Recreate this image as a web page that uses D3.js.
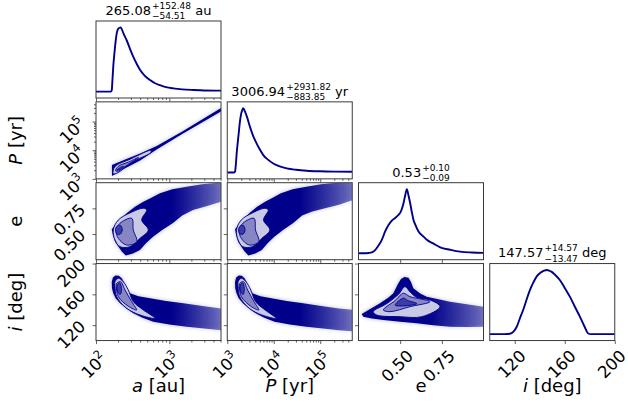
<!DOCTYPE html>
<html>
<head>
<meta charset="utf-8">
<script src="https://cdn.jsdelivr.net/npm/d3@7"></script>
<style>
  body { margin: 0; background: #fff; }
  svg { display: block; font-family: "DejaVu Sans", sans-serif; }
</style>
</head>
<body>
<svg id="chart" width="628" height="405"></svg>
<script>
// ---------- values ----------
// axis limits and ticks
const aDomain = [100, 5070];
const pDomain = [1000, 487600];
const eDomain = [0.25, 1.0];
const iDomain = [100, 200];
const aTicks = [100, 1000];
const pTicks = [1000, 10000, 100000];
const eTicks = [0.5, 0.75];
const iTicks = [120, 160, 200];
const eTickLabels = ["0.50", "0.75"];
const iTickLabels = ["120", "160", "200"];

// labels and titles
const labelSymbols = ["a", "P", "e", "i"];
const labelUnits = [" [au]", " [yr]", "", " [deg]"];
const labelItalic = [true, true, false, true];
const titleMain = ["265.08", "3006.94", "0.53", "147.57"];
const titlePlus = ["+152.48", "+2931.82", "+0.10", "+14.57"];
const titleMinus = ["\u221254.51", "\u2212883.85", "\u22120.09", "\u221213.47"];
const titleUnit = ["au", "yr", "", "deg"];

// 1D marginals (normalised to peak)
const aHistX = [100, 150, 160, 164, 168, 172, 177, 182, 187, 192, 197, 202, 210, 217, 225, 240, 262, 290, 323, 360, 398, 460, 546, 640, 746, 900, 1135, 1500, 2125, 3000, 5070];
const aHistY = [0, 0, 0, 0.02, 0.2, 0.39, 0.56, 0.7, 0.82, 0.91, 0.96, 0.98, 0.995, 1.0, 0.97, 0.89, 0.8, 0.67, 0.54, 0.43, 0.34, 0.25, 0.18, 0.13, 0.1, 0.07, 0.05, 0.035, 0.025, 0.018, 0.015];
const pHistX = [1000, 1400, 1468, 1530, 1596, 1700, 1792, 1880, 1977, 2100, 2213, 2400, 2700, 3083, 3600, 4297, 5000, 5957, 7500, 9772, 13500, 19000, 30000, 51170, 100000, 200000, 487600];
const pHistY = [0, 0, 0.01, 0.12, 0.3, 0.5, 0.66, 0.8, 0.9, 0.97, 1.0, 0.95, 0.85, 0.71, 0.57, 0.45, 0.36, 0.27, 0.2, 0.14, 0.095, 0.064, 0.042, 0.027, 0.018, 0.013, 0.01];
const eHistX = [0.25, 0.29, 0.31, 0.33, 0.35, 0.37, 0.39, 0.41, 0.43, 0.45, 0.47, 0.49, 0.50, 0.51, 0.52, 0.53, 0.54, 0.55, 0.56, 0.57, 0.58, 0.59, 0.61, 0.64, 0.66, 0.70, 0.74, 0.80, 0.86, 0.93, 1.0];
const eHistY = [0, 0, 0.005, 0.015, 0.05, 0.12, 0.21, 0.34, 0.44, 0.51, 0.55, 0.6, 0.63, 0.69, 0.78, 0.9, 1.0, 0.9, 0.78, 0.64, 0.52, 0.45, 0.34, 0.26, 0.21, 0.15, 0.093, 0.055, 0.025, 0.012, 0.006];
const iHistX = [100, 112, 116, 119, 121.6, 124, 126.8, 129.5, 132.2, 135, 137.6, 139.6, 141.6, 143.6, 145.6, 147.6, 149.6, 152, 156.2, 160, 164.2, 168, 172.2, 175.5, 178.8, 181, 200];
const iHistY = [0, 0, 0.005, 0.04, 0.115, 0.24, 0.38, 0.54, 0.69, 0.81, 0.9, 0.94, 0.97, 0.99, 1.0, 0.99, 0.97, 0.93, 0.84, 0.72, 0.58, 0.43, 0.27, 0.13, 0.01, 0, 0];

// 2D clouds: outline of the sample cloud, then three density contours (outer -> inner)
const apOuter = [[165, 1250], [165, 3050], [250, 4700], [400, 7600], [673, 14000], [1500, 45000], [5070, 300000], [5070, 225000], [1500, 37000], [673, 10500], [400, 4400], [250, 2350]];
const apLevels = [
  [[172, 1500], [180, 2600], [300, 5000], [560, 9800], [560, 8300], [300, 3700], [200, 1650]],
  [[185, 1900], [200, 2700], [280, 3900], [380, 5600], [270, 3100], [200, 1850]],
  [[192, 2000], [215, 2500], [240, 2700], [215, 2200]]
];
const aeOuter = [[164, 0.546], [200, 0.62], [262, 0.702], [340, 0.765], [442, 0.815], [560, 0.85], [746, 0.897], [1100, 0.935], [1727, 0.961], [2800, 0.985], [3945, 0.994], [5070, 1.0], [5070, 0.815], [3200, 0.77], [2104, 0.734], [1500, 0.68], [1122, 0.607], [800, 0.54], [600, 0.474], [480, 0.41], [398, 0.344], [320, 0.31], [255, 0.29], [225, 0.33], [200, 0.38], [182, 0.425], [170, 0.49]];
const aeLevels = [
  [[172, 0.539], [201.5, 0.637], [300, 0.71], [442, 0.751], [492, 0.734], [420, 0.637], [517, 0.539], [398, 0.458], [291, 0.377], [212.5, 0.377], [181.7, 0.442]],
  [[187.5, 0.539], [212.5, 0.605], [307, 0.653], [322.8, 0.539], [359, 0.425], [262, 0.393], [201.5, 0.458]],
  [[190, 0.57], [215, 0.585], [228, 0.54], [215, 0.5], [195, 0.5], [185, 0.53]]
];
const peOuter = [[1470, 0.546], [1980, 0.62], [2969, 0.702], [4388, 0.765], [6504, 0.815], [9276, 0.85], [14262, 0.897], [25538, 0.935], [50240, 0.961], [103713, 0.985], [173460, 0.994], [252700, 1.0], [487600, 1.0], [487600, 0.83], [252700, 0.785], [126713, 0.75], [67560, 0.72], [40666, 0.68], [26310, 0.607], [15839, 0.54], [10288, 0.474], [7361, 0.41], [5558, 0.344], [4007, 0.31], [2850, 0.29], [2363, 0.33], [1980, 0.38], [1719, 0.425], [1552, 0.49]];
const peLevels = [
  [[1579, 0.539], [2002, 0.637], [3637, 0.71], [6504, 0.751], [7639, 0.734], [6025, 0.637], [8229, 0.539], [5558, 0.458], [3475, 0.377], [2168, 0.377], [1714, 0.442]],
  [[1797, 0.539], [2168, 0.605], [3765, 0.653], [4062, 0.539], [4761, 0.425], [2969, 0.393], [2002, 0.458]],
  [[1833, 0.57], [2207, 0.585], [2410, 0.54], [2207, 0.5], [1906, 0.5], [1761, 0.53]]
];
const aiOuter = [[164, 176], [170, 182], [185, 184.5], [205, 184], [225, 181], [240, 176], [260, 168], [291, 161.4], [380, 157.5], [546, 154.9], [900, 151.5], [1552, 148.4], [3000, 144.5], [5070, 141.5], [5070, 113.5], [3000, 115.5], [1727, 118], [1000, 121], [605, 124.5], [430, 129.5], [323, 135.4], [260, 141.5], [212.5, 148.4], [185, 155], [172, 161.4], [165, 168]];
const aiLevels = [
  [[181.7, 176.4], [201.5, 180.8], [235.6, 176.4], [276, 165.6], [322.8, 150.5], [441.6, 139.7], [638, 128.9], [398, 133.2], [262, 141.9], [191.6, 157], [181.7, 170]],
  [[191.6, 174.4], [217.3, 176.4], [248.8, 165.6], [307, 150.5], [359, 139.7], [276, 144.5], [201.5, 157], [190, 168]],
  [[195, 172], [210, 175], [222, 168], [215, 160], [200, 162]]
];
const piOuter = [[1470, 176], [1552, 182], [1761, 184.5], [2055, 184], [2363, 181], [2603, 176], [2935, 168], [3475, 161.4], [5185, 157.5], [8931, 154.9], [18900, 151.5], [42799, 148.4], [115022, 144.5], [252700, 141.5], [487600, 140], [487600, 112], [252700, 113.5], [115022, 115.5], [50240, 118], [22136, 121], [10417, 124.5], [6242, 129.5], [4064, 135.4], [2935, 141.5], [2168, 148.4], [1761, 155], [1579, 161.4], [1484, 168]];
const piLevels = [
  [[1714, 176.4], [2002, 180.8], [2531, 176.4], [3210, 165.6], [4062, 150.5], [6496, 139.7], [11281, 128.9], [5558, 133.2], [2969, 141.9], [1857, 157], [1714, 170]],
  [[1857, 174.4], [2242, 176.4], [2747, 165.6], [3765, 150.5], [4761, 139.7], [3210, 144.5], [2002, 157], [1833, 168]],
  [[1906, 172], [2130, 175], [2315, 168], [2207, 160], [1980, 162]]
];
const eiOuter = [[0.269, 134.5], [0.32, 141], [0.379, 148.4], [0.43, 156], [0.459, 161.4], [0.489, 174.3], [0.505, 180], [0.525, 182.5], [0.55, 181.5], [0.565, 176], [0.579, 167.9], [0.62, 161], [0.659, 157], [0.73, 153.5], [0.799, 150.5], [0.9, 147], [1.0, 144], [1.0, 118], [0.9, 117.5], [0.799, 118], [0.7, 120], [0.599, 122.4], [0.5, 124.5], [0.399, 126.7], [0.33, 128.5], [0.279, 131]];
const eiLevels = [
  [[0.339, 137.5], [0.42, 148], [0.49, 160], [0.529, 170], [0.56, 163], [0.6, 156], [0.679, 152.7], [0.739, 144], [0.629, 131], [0.499, 131], [0.359, 133.2]],
  [[0.399, 139.7], [0.47, 152], [0.519, 161.4], [0.559, 157], [0.679, 150.5], [0.559, 144], [0.439, 137.5]],
  [[0.47, 146], [0.52, 155], [0.545, 152], [0.6, 148], [0.52, 145]]
];

// ---------- layout ----------
const gridLeft = 96, gridTop = 21, pw = 125, ph = 77, gapX = 6.25, gapY = 3.85;
const blue = "#00008b";
const spine = "#3a3a3a";
const levelColors = ["#c9c9e6", "#8686c4", "#3c3ca6"];
const tickFont = 16.5, supFont = 11.5, supRaise = 7.2;

const colX = (c) => gridLeft + c * (pw + gapX);
const rowY = (r) => gridTop + r * (ph + gapY);

const dims = [
  { scale: d3.scaleLog().domain(aDomain), ticks: aTicks, log: true, hx: aHistX, hy: aHistY },
  { scale: d3.scaleLog().domain(pDomain), ticks: pTicks, log: true, hx: pHistX, hy: pHistY },
  { scale: d3.scaleLinear().domain(eDomain), ticks: eTicks, labels: eTickLabels, hx: eHistX, hy: eHistY },
  { scale: d3.scaleLinear().domain(iDomain), ticks: iTicks, labels: iTickLabels, hx: iHistX, hy: iHistY },
];

const clouds = {
  "10": { outer: apOuter, levels: apLevels, fade: false },
  "20": { outer: aeOuter, levels: aeLevels, fade: true },
  "21": { outer: peOuter, levels: peLevels, fade: true },
  "30": { outer: aiOuter, levels: aiLevels, fade: true },
  "31": { outer: piOuter, levels: piLevels, fade: true },
  "32": { outer: eiOuter, levels: eiLevels, fade: true },
};

const svg = d3.select("#chart");
const defs = svg.append("defs");

defs.append("filter").attr("id", "soft").attr("x", "-10%").attr("y", "-10%").attr("width", "120%").attr("height", "120%")
  .append("feGaussianBlur").attr("stdDeviation", 0.7);
defs.append("filter").attr("id", "halo").attr("x", "-20%").attr("y", "-20%").attr("width", "140%").attr("height", "140%")
  .append("feGaussianBlur").attr("stdDeviation", 2.2);

const fade = defs.append("linearGradient").attr("id", "fade");
fade.append("stop").attr("offset", 0).attr("stop-color", blue).attr("stop-opacity", 1);
fade.append("stop").attr("offset", 0.55).attr("stop-color", blue).attr("stop-opacity", 1);
fade.append("stop").attr("offset", 1).attr("stop-color", blue).attr("stop-opacity", 0.5);

function tickText(parent, t, dim, k) {
  const txt = parent.append("text")
    .attr("font-size", tickFont)
    .attr("text-anchor", "middle")
    .attr("fill", "#000");
  let hInk = 0.73 * tickFont;
  if (dim.log) {
    txt.append("tspan").text("10");
    txt.append("tspan").attr("font-size", supFont).attr("dy", -supRaise)
      .text(Math.round(Math.log10(t)));
    hInk = Math.max(hInk, supRaise + 0.73 * supFont);
  } else {
    txt.text(dim.labels[k]);
  }
  const w = txt.node().getBBox().width;
  const size = (w + hInk) * Math.SQRT1_2;
  return { txt, hInk, size };
}

function addTicks(g, x, y, dimX, dimY, labelX, labelY) {
  const minorOf = (dim, s) =>
    dim.log ? s.ticks().filter((t) => !dim.ticks.some((m) => Math.abs(m - t) / m < 1e-6)) : [];

  // x ticks
  const xa = g.append("g").attr("transform", `translate(0,${ph})`);
  xa.call(d3.axisBottom(x).tickValues(dimX.ticks).tickSize(3.5).tickSizeOuter(0).tickFormat(""));
  const xm = g.append("g").attr("transform", `translate(0,${ph})`);
  xm.call(d3.axisBottom(x).tickValues(minorOf(dimX, x)).tickSize(2).tickSizeOuter(0).tickFormat(""));
  [xa, xm].forEach((s) => {
    s.select(".domain").remove();
    s.selectAll("line").attr("stroke", spine).attr("stroke-width", 0.8);
  });
  if (labelX) {
    dimX.ticks.forEach((t, k) => {
      const { txt, hInk, size } = tickText(g, t, dimX, k);
      txt.attr("transform", `translate(${x(t) - 3.2},${ph + 8 + size / 2}) rotate(-45) translate(0,${hInk / 2})`);
    });
  }

  if (!y) return;
  const ya = g.append("g");
  ya.call(d3.axisLeft(y).tickValues(dimY.ticks).tickSize(3.5).tickSizeOuter(0).tickFormat(""));
  const ym = g.append("g");
  ym.call(d3.axisLeft(y).tickValues(minorOf(dimY, y)).tickSize(2).tickSizeOuter(0).tickFormat(""));
  [ya, ym].forEach((s) => {
    s.select(".domain").remove();
    s.selectAll("line").attr("stroke", spine).attr("stroke-width", 0.8);
  });
  if (labelY) {
    dimY.ticks.forEach((t, k) => {
      const { txt, hInk, size } = tickText(g, t, dimY, k);
      txt.attr("transform", `translate(${-9.5 - size / 2},${y(t) - hInk / 2 + size / 2}) rotate(-45) translate(0,${hInk / 2})`);
    });
  }
}

function addTitle(cx, baseY, k) {
  const grp = svg.append("g").attr("fill", "#000");
  const main = grp.append("text").attr("font-size", 13).text(titleMain[k]);
  const sup = grp.append("text").attr("font-size", 9).text(titlePlus[k]);
  const sub = grp.append("text").attr("font-size", 9).text(titleMinus[k]);
  const unit = grp.append("text").attr("font-size", 13).text(titleUnit[k]);
  const wm = main.node().getComputedTextLength();
  const ws = Math.max(sup.node().getComputedTextLength(), sub.node().getComputedTextLength());
  const wu = titleUnit[k] ? unit.node().getComputedTextLength() + 4.2 : 0;
  const x0 = cx - (wm + 1 + ws + wu) / 2;
  main.attr("x", x0).attr("y", baseY);
  sup.attr("x", x0 + wm + 1).attr("y", baseY - 6);
  sub.attr("x", x0 + wm + 1).attr("y", baseY + 4.5);
  unit.attr("x", x0 + wm + 1 + ws + 4.2).attr("y", baseY);
}

function addLabel(sel, k) {
  sel.append("tspan").attr("font-style", labelItalic[k] ? "italic" : "normal").text(labelSymbols[k]);
  if (labelUnits[k]) sel.append("tspan").text(labelUnits[k]);
}

const shapeLine = (x, y, curve) => d3.line().x((d) => x(d[0])).y((d) => y(d[1])).curve(curve);

for (let r = 0; r < 4; r++) {
  for (let c = 0; c <= r; c++) {
    const g = svg.append("g").attr("transform", `translate(${colX(c)},${rowY(r)})`);
    const clipId = `clip-${r}-${c}`;
    defs.append("clipPath").attr("id", clipId).append("rect").attr("width", pw).attr("height", ph);
    const body = g.append("g").attr("clip-path", `url(#${clipId})`);

    const x = dims[c].scale.copy().range([0, pw]);
    let y = null;

    if (r === c) {
      const hy = d3.scaleLinear().domain([-0.1, 1.1]).range([ph, 0]);
      const pts = d3.zip(dims[c].hx, dims[c].hy);
      body.append("path")
        .datum(pts)
        .attr("d", d3.line().x((d) => x(d[0])).y((d) => hy(d[1])).curve(d3.curveMonotoneX))
        .attr("fill", "none")
        .attr("stroke", blue)
        .attr("stroke-width", 1.9)
        .attr("stroke-linejoin", "round");
    } else {
      y = dims[r].scale.copy().range([ph, 0]);
      const cloud = clouds[`${r}${c}`];
      const fill = cloud.fade ? "url(#fade)" : blue;
      const outerPath = shapeLine(x, y, d3.curveLinearClosed);
      const levelPath = shapeLine(x, y, d3.curveCatmullRomClosed.alpha(0.5));

      body.append("path").datum(cloud.outer).attr("d", outerPath)
        .attr("fill", fill).attr("opacity", 0.3).attr("filter", "url(#halo)");
      body.append("path").datum(cloud.outer).attr("d", outerPath)
        .attr("fill", fill).attr("filter", "url(#soft)");

      body.selectAll("path.level")
        .data(cloud.levels)
        .enter()
        .append("path")
        .attr("class", "level")
        .attr("d", levelPath)
        .attr("fill", (d, k) => levelColors[k])
        .attr("stroke", blue)
        .attr("stroke-width", 0.9);
    }

    g.append("rect")
      .attr("width", pw)
      .attr("height", ph)
      .attr("fill", "none")
      .attr("stroke", spine)
      .attr("stroke-width", 1);

    addTicks(g, x, y, dims[c], y ? dims[r] : null, r === 3, c === 0 && r > 0);
  }
  addTitle(colX(r) + pw / 2, rowY(r) - 6.2, r);
}

// axis labels
for (let c = 0; c < 4; c++) {
  const t = svg.append("text")
    .attr("x", colX(c) + pw / 2)
    .attr("y", 392)
    .attr("font-size", 18)
    .attr("text-anchor", "middle")
    .style("white-space", "pre");
  addLabel(t, c);
}
for (let r = 1; r < 4; r++) {
  const t = svg.append("text")
    .attr("transform", `translate(22,${rowY(r) + ph / 2}) rotate(-90)`)
    .attr("font-size", 18)
    .attr("text-anchor", "middle")
    .style("white-space", "pre");
  addLabel(t, r);
}
</script>
</body>
</html>
